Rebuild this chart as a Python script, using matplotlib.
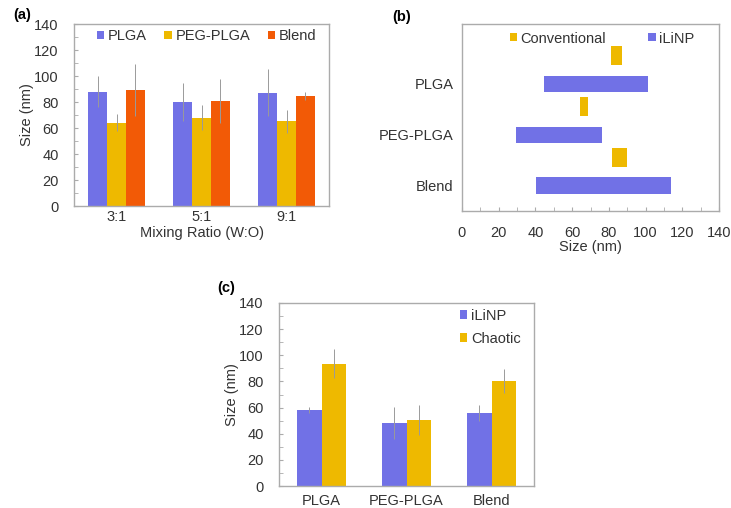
import matplotlib.pyplot as plt
import numpy as np
from matplotlib.ticker import MultipleLocator
from matplotlib.patches import Patch

plt.rcParams['font.family'] = ['Liberation Sans', 'DejaVu Sans']

# panel (a)
ratios = ['3:1', '5:1', '9:1']
plga_a = [88, 80, 87]
plga_a_err = [12, 14.5, 18]
peg_a = [64, 68, 65]
peg_a_err = [6.5, 9.5, 8.5]
blend_a = [89, 81, 84.5]
blend_a_err = [20, 17, 3]

# panel (b): size ranges (low, high)
polymers = ['PLGA', 'PEG-PLGA', 'Blend']
conv_low = [81, 64.5, 81.5]
conv_high = [87, 68.5, 90]
ilinp_low = [44.5, 29.5, 40.5]
ilinp_high = [101.5, 76.5, 114]

# panel (c)
ilinp_c = [58, 48, 56]
ilinp_c_err = [2.3, 12.4, 6]
chaotic_c = [93.5, 50.5, 80.5]
chaotic_c_err = [11, 11.3, 9]

BLUE = '#7171E6'
YEL = '#EEB900'
ORG = '#F25A06'
FRAME = '#ABABAB'
ERR = '#9A9A9A'
TXT = '#333333'
W, H = 731, 508

fig = plt.figure(figsize=(W / 100, H / 100), dpi=100)


def px_axes(l, t, r, b):
    return fig.add_axes([l / W, 1 - b / H, (r - l) / W, (b - t) / H])


def style(ax):
    for s in ax.spines.values():
        s.set_color(FRAME)
        s.set_linewidth(1.0)
    ax.tick_params(which='both', direction='in', color=FRAME, labelsize=10.5,
                   labelcolor=TXT, top=False, right=False, length=3)


def key(c):
    return Patch(facecolor=c, edgecolor='none')


leg_kw = dict(frameon=False, fontsize=10.5, handlelength=0.5, handleheight=0.5,
              handletextpad=0.25, labelcolor=TXT)
ekw = dict(ecolor=ERR, elinewidth=0.7, capsize=0)

# ---- (a)
ax = px_axes(74, 24, 329, 206)
x = np.arange(len(ratios))
bw = 0.22
ax.bar(x - bw, plga_a, bw, color=BLUE, yerr=plga_a_err, error_kw=ekw)
ax.bar(x, peg_a, bw, color=YEL, yerr=peg_a_err, error_kw=ekw)
ax.bar(x + bw, blend_a, bw, color=ORG, yerr=blend_a_err, error_kw=ekw)
ax.set_xlim(-0.5, 2.5)
ax.set_ylim(0, 140)
ax.set_xticks(x)
ax.set_xticklabels(ratios)
ax.yaxis.set_major_locator(MultipleLocator(20))
ax.yaxis.set_minor_locator(MultipleLocator(10))
style(ax)
ax.tick_params(axis='x', which='both', length=0, pad=3)
ax.tick_params(axis='y', pad=11)
ax.set_xlabel('Mixing Ratio (W:O)', fontsize=10.5, color=TXT, labelpad=1)
ax.set_ylabel('Size (nm)', fontsize=10.5, color=TXT, labelpad=0)
ax.legend([key(BLUE), key(YEL), key(ORG)], ['PLGA', 'PEG-PLGA', 'Blend'],
          loc='upper center', bbox_to_anchor=(0.52, 1.045), ncol=3,
          columnspacing=1.2, **leg_kw)
fig.text(13 / W, 1 - 15 / H, '(a)', fontsize=10.5, fontweight='bold', va='center')

# ---- (b)
ax = px_axes(462, 24, 719, 211)
yb = np.arange(len(polymers))
conv_w = np.array(conv_high) - np.array(conv_low)
ilinp_w = np.array(ilinp_high) - np.array(ilinp_low)
ax.barh(yb - 0.56, conv_w, 0.37, left=conv_low, color=YEL)
ax.barh(yb, ilinp_w, 0.32, left=ilinp_low, color=BLUE)
ax.set_xlim(0, 140)
ax.set_ylim(2.5, -1.18)
ax.set_yticks(yb)
ax.set_yticklabels(polymers)
ax.xaxis.set_major_locator(MultipleLocator(20))
ax.xaxis.set_minor_locator(MultipleLocator(10))
style(ax)
ax.tick_params(axis='y', which='both', length=0, pad=6)
ax.tick_params(axis='x', pad=11)
ax.set_xlabel('Size (nm)', fontsize=10.5, color=TXT, labelpad=0)
ax.legend([key(YEL), key(BLUE)], ['Conventional', 'iLiNP'],
          loc='upper center', bbox_to_anchor=(0.545, 1.03), ncol=2,
          columnspacing=2.9, **leg_kw)
fig.text(392 / W, 1 - 17 / H, '(b)', fontsize=10.5, fontweight='bold', va='center')

# ---- (c)
ax = px_axes(279, 303, 534, 486)
xc = np.arange(len(polymers))
bw = 0.285
ax.bar(xc - bw / 2, ilinp_c, bw, color=BLUE, yerr=ilinp_c_err, error_kw=ekw)
ax.bar(xc + bw / 2, chaotic_c, bw, color=YEL, yerr=chaotic_c_err, error_kw=ekw)
ax.set_xlim(-0.5, 2.5)
ax.set_ylim(0, 140)
ax.set_xticks(xc)
ax.set_xticklabels(polymers)
ax.yaxis.set_major_locator(MultipleLocator(20))
ax.yaxis.set_minor_locator(MultipleLocator(10))
style(ax)
ax.tick_params(axis='x', which='both', length=0, pad=6)
ax.tick_params(axis='y', pad=11)
ax.set_ylabel('Size (nm)', fontsize=10.5, color=TXT, labelpad=0)
ax.legend([key(BLUE), key(YEL)], ['iLiNP', 'Chaotic'],
          loc='upper right', bbox_to_anchor=(1.0, 1.04), labelspacing=0.6, **leg_kw)
fig.text(217 / W, 1 - 288 / H, '(c)', fontsize=10.5, fontweight='bold', va='center')

fig.savefig('out.png', dpi=100)
